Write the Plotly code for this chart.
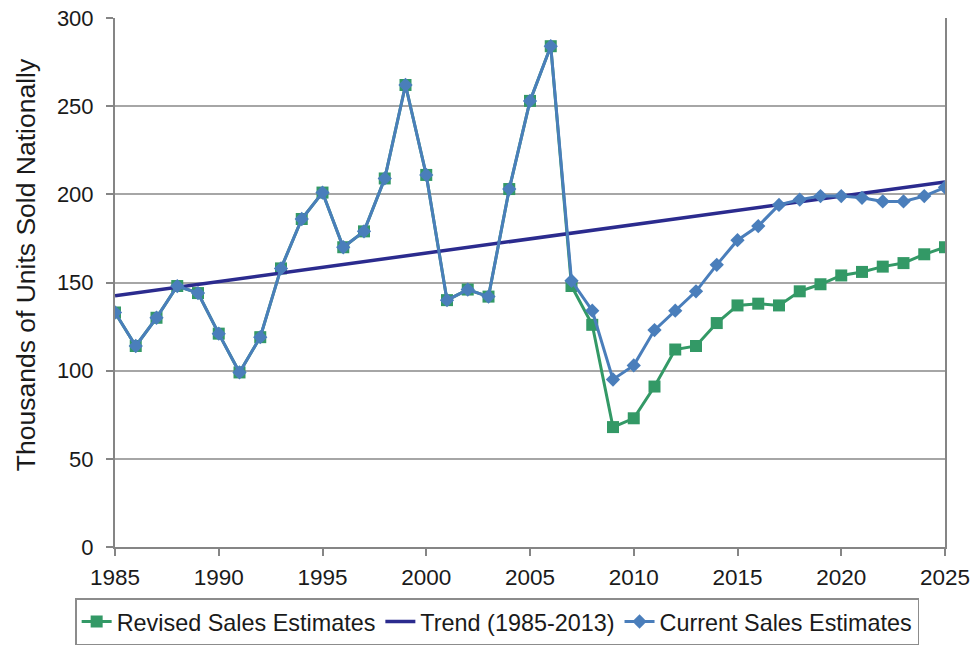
import plotly.graph_objects as go

# Annual housing unit sales, thousands
years = list(range(1985, 2026))

revised_sales = [133, 114, 130, 148, 144, 121, 99, 119, 158, 186, 201, 170, 179, 209,
                 262, 211, 140, 146, 142, 203, 253, 284,
                 148, 126, 68, 73, 91, 112, 114, 127, 137, 138, 137, 145, 149, 154,
                 156, 159, 161, 166, 170]

current_sales = [133, 114, 130, 148, 144, 121, 99, 119, 158, 186, 201, 170, 179, 209,
                 262, 211, 140, 146, 142, 203, 253, 284,
                 151, 134, 95, 103, 123, 134, 145, 160, 174, 182, 194, 197, 199, 199,
                 198, 196, 196, 199, 204]

# Linear trend fitted over 1985-2013, extended to 2025
trend_years = [1985, 2025]
trend_values = [142.5, 207]

series_names = ["Revised Sales Estimates", "Trend (1985-2013)", "Current Sales Estimates"]
y_title = "Thousands of Units Sold Nationally"

GREEN = "#339966"
NAVY = "#2B2B8E"
BLUE = "#4A7EBB"
FONT = "Liberation Sans, Arial, sans-serif"

fig = go.Figure()

fig.add_trace(go.Scatter(
    x=years, y=revised_sales, name=series_names[0], mode="lines+markers",
    line=dict(color=GREEN, width=3),
    marker=dict(symbol="square", size=12, color=GREEN),
))

fig.add_trace(go.Scatter(
    x=trend_years, y=trend_values, name=series_names[1], mode="lines",
    line=dict(color=NAVY, width=3.5),
))

fig.add_trace(go.Scatter(
    x=years, y=current_sales, name=series_names[2], mode="lines+markers",
    line=dict(color=BLUE, width=3),
    marker=dict(symbol="diamond", size=11, color=BLUE),
))

fig.update_layout(
    width=975, height=647,
    margin=dict(l=115, r=30, t=18, b=100, autoexpand=False),
    paper_bgcolor="white", plot_bgcolor="white",
    font=dict(family=FONT, size=22, color="#1a1a1a"),
    showlegend=True,
    legend=dict(
        orientation="h",
        x=-0.048, xanchor="left", y=-0.097, yanchor="top",
        font=dict(size=23.4, color="#1a1a1a"),
        bordercolor="#8c8c8c", borderwidth=1.5,
        itemwidth=30, tracegroupgap=0,
    ),
)

# Vertical axis title, placed in the left margin
fig.add_annotation(
    text=y_title, textangle=-90,
    xref="paper", yref="paper", x=-0.107, y=0.533,
    xanchor="center", yanchor="middle", showarrow=False,
    font=dict(size=26.5, color="#1a1a1a"),
)

fig.update_xaxes(
    range=[1985, 2025], tick0=1985, dtick=5,
    showgrid=False, zeroline=False, automargin=False,
    showline=True, linecolor="#858585", linewidth=2,
    ticks="outside", ticklen=7, tickwidth=1.5, tickcolor="#858585",
    ticklabelstandoff=2,
    tickfont=dict(size=22.5),
)

fig.update_yaxes(
    range=[0, 300], dtick=50,
    showgrid=True, gridcolor="#a6a6a6", gridwidth=1.5,
    zeroline=False, automargin=False,
    showline=True, linecolor="#858585", linewidth=2, mirror=True,
    ticks="outside", ticklen=7, tickwidth=1.5, tickcolor="#858585",
    ticklabelstandoff=8,
    tickfont=dict(size=22),
)

fig.write_html("out.html")
